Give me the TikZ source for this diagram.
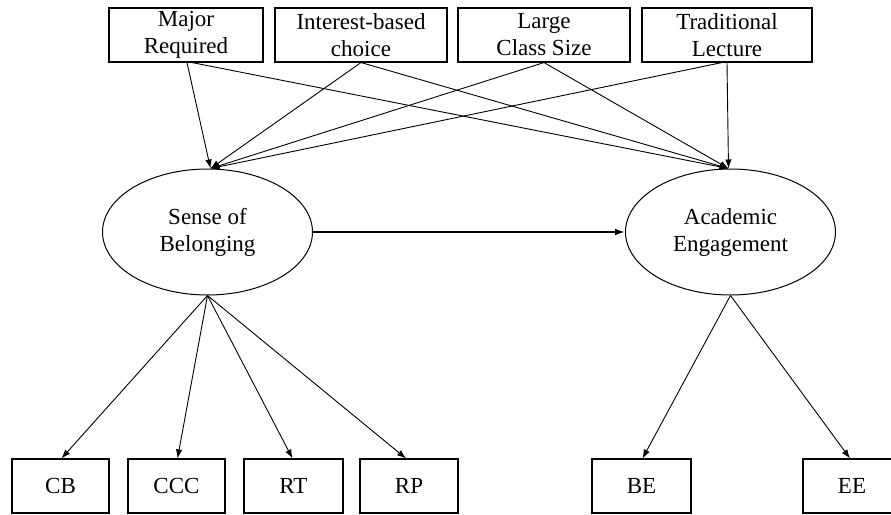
\documentclass[tikz,border=0pt]{standalone}
\usepackage{fontspec}
\setmainfont{Liberation Serif}
\usetikzlibrary{shapes.geometric,arrows.meta}
\begin{document}
\begin{tikzpicture}[x=1pt,y=-1pt,
  txt/.style={font=\fontsize{23}{27}\selectfont, align=center},
  obs/.style={txt, draw, line width=1.1pt, rectangle, inner sep=0pt, minimum height=54pt},
  lat/.style={txt, draw, line width=1pt, ellipse, inner sep=0pt,
              minimum width=210pt, minimum height=126pt},
  link/.style={line width=0.9pt, -{Latex[length=9pt,width=6.5pt]}},
  main/.style={line width=2pt, -{Latex[length=10pt,width=7pt]}}
]
\useasboundingbox (0,0) rectangle (891,514);

% predictors
\node[obs, minimum width=154pt] (mr) at (186,35)   {Major\\Required};
\node[obs, minimum width=172pt] (ib) at (361,35)   {Interest-based\\choice};
\node[obs, minimum width=172pt] (lc) at (544,35)   {Large\\Class Size};
\node[obs, minimum width=170pt] (tl) at (727,35)   {Traditional\\Lecture};

% latent factors
\node[lat] (sob) at (207.5,232) {Sense of\\Belonging};
\node[lat] (ae)  at (730.5,232) {Academic\\Engagement};

% indicators
\node[obs, minimum width=97pt] (cb)  at (60.5,486)  {CB};
\node[obs, minimum width=97pt] (ccc) at (176.5,486) {CCC};
\node[obs, minimum width=99pt] (rt)  at (293.5,486) {RT};
\node[obs, minimum width=98pt] (rp)  at (409,486)   {RP};
\node[obs, minimum width=99pt] (be)  at (641.5,486) {BE};
\node[obs, minimum width=98pt] (ee)  at (852,486)   {EE};

% structural paths
\draw[link] ([xshift=1pt]mr.south)  -- ([xshift=3pt]sob.north);
\draw[link] ([xshift=6pt]mr.south)  -- ([xshift=-2pt]ae.north);
\draw[link] (ib.south) -- ([xshift=3pt]sob.north);
\draw[link] (ib.south) -- ([xshift=-2pt]ae.north);
\draw[link] (lc.south) -- ([xshift=3pt]sob.north);
\draw[link] (lc.south) -- ([xshift=-2pt]ae.north);
\draw[link] ([xshift=-5pt]tl.south) -- ([xshift=3pt]sob.north);
\draw[link] (tl.south) -- ([xshift=-2pt]ae.north);

\draw[main] (sob.east) -- (ae.west);

% measurement paths
\draw[link] (sob.south) -- ([xshift=1pt]cb.north);
\draw[link] (sob.south) -- ([xshift=1pt]ccc.north);
\draw[link] (sob.south) -- ([xshift=-1pt]rt.north);
\draw[link] (sob.south) -- ([xshift=-3pt]rp.north);
\draw[link] (ae.south)  -- ([xshift=1pt]be.north);
\draw[link] (ae.south)  -- ([xshift=-2pt]ee.north);
\end{tikzpicture}
\end{document}
